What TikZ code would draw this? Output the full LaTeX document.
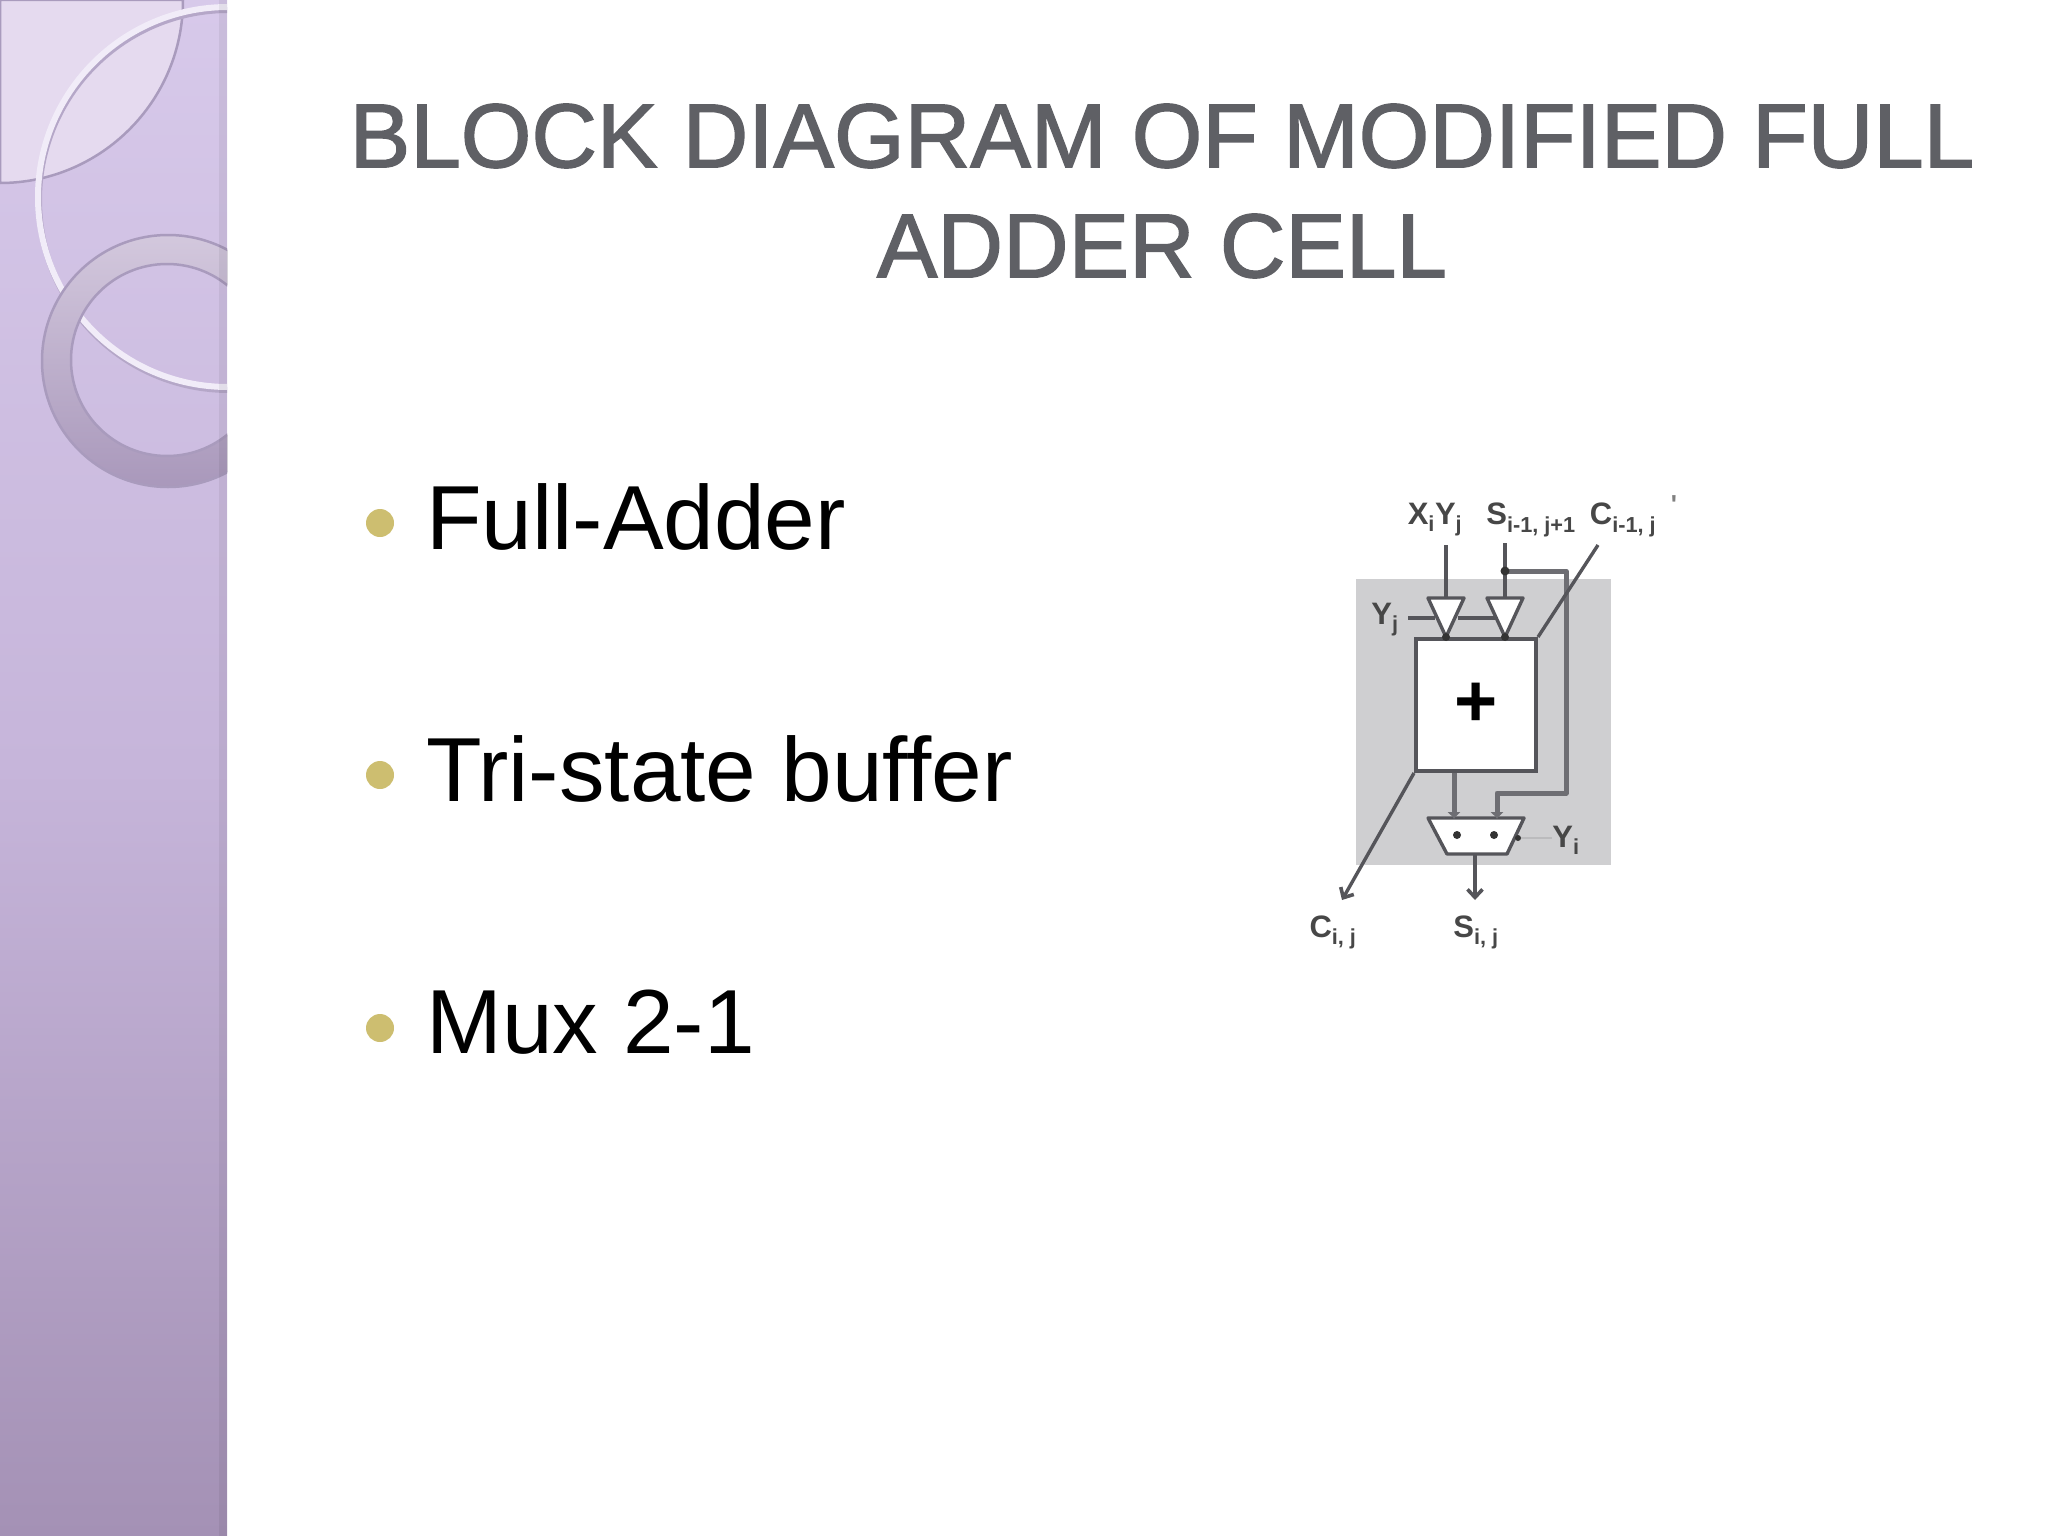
\documentclass[tikz,border=0pt]{standalone}
\usepackage{fontspec}
\setmainfont{Liberation Sans}
\newfontfamily\titlefont[FakeBold=1.6]{Liberation Sans}
\usetikzlibrary{positioning,arrows.meta}
\definecolor{bandtop}{HTML}{D7C9EA}
\definecolor{bandmid}{HTML}{C6B5DA}
\definecolor{bandlow}{HTML}{A491B5}
\definecolor{bandline}{HTML}{A99BBD}
\definecolor{cornerfill}{HTML}{E5DAEF}
\definecolor{ringtop}{HTML}{D3C8DD}
\definecolor{ringlow}{HTML}{A998BB}
\definecolor{titlegray}{HTML}{5F6065}
\definecolor{bulletgold}{HTML}{CDBE70}
\definecolor{cellgray}{HTML}{CFCFD1}
\definecolor{wiregray}{HTML}{55555A}
\tikzset{
    wire/.style={draw=wiregray, line width=3.4pt},
    thickwire/.style={draw=wiregray!85, line width=5pt},
    tipwire/.style={wire, -{Straight Barb[length=8pt,width=15pt,line width=3.6pt]}},
    fedwire/.style={thickwire, -{Latex[length=7pt,width=14pt]}},
    pinlabel/.style={font=\bfseries\fontsize{31}{32}\selectfont, text=black!72, inner sep=0pt},
    titlelabel/.style={font=\titlefont\fontsize{90.8}{96}\selectfont, text=titlegray, inner sep=0pt},
    itemlabel/.style={font=\fontsize{91}{96}\selectfont, text=black, anchor=west, inner sep=0pt},
    bulletdot/.style={circle, fill=bulletgold, minimum size=28pt, inner sep=0pt},
    pindot/.style={circle, fill=black!80, minimum size=8pt, inner sep=0pt},
}
\begin{document}
\begin{tikzpicture}[x=1pt, y=-1pt]
\useasboundingbox (0,0) rectangle (2048,1536);

% side band
\fill[top color=bandtop, bottom color=bandlow, middle color=bandmid] (0,0) rectangle (227,1536);
\begin{scope}
\clip (0,0) rectangle (227,1536);
\fill[cornerfill, draw=bandline, line width=2.5pt] (0,0) -- (183,0) arc[start angle=0, end angle=90, radius=183] -- cycle;
\draw[bandline!75!bandtop, line width=6pt] (229,200) circle[radius=190];
\draw[white!65!bandtop, line width=6pt] (228,197) circle[radius=190];
\fill[top color=ringtop, bottom color=ringlow, even odd rule, draw=bandline, line width=2.5pt]
    (168,361) circle[radius=126] (167,360) circle[radius=96];
\fill[black, opacity=.06] (219,0) rectangle (227,1536);
\end{scope}

% title
\node[titlelabel] (titletop) at (1162,136) {BLOCK DIAGRAM OF MODIFIED FULL};
\node[titlelabel] (titlelow) at (1162,246) {ADDER CELL};

% items
\foreach \name/\y/\txt in {fulladd/517/Full-Adder, tristate/769/Tri-state buffer, muxitem/1022/Mux 2-1}{
    \node[bulletdot] (\name dot) at (380,\y+6) {};
    \node[itemlabel] (\name) at (426,\y) {\txt};
}

% cell
\fill[cellgray] (1356,579) rectangle (1611,865);
\node[draw=wiregray, line width=4pt, fill=white, minimum width=120pt, minimum height=132pt, inner sep=0pt,
    font=\bfseries\fontsize{74}{74}\selectfont] (adder) at (1476,705) {+};

% tri-state buffers
\foreach \name/\x in {bufx/1446,bufs/1505}{
    \coordinate (\name l) at (\x-18,598);
    \coordinate (\name r) at (\x+18,598);
    \coordinate (\name in) at (\x,598);
    \coordinate (\name out) at (\x,637);
    \draw[wire, fill=white, line join=round] (\name l) -- (\name r) -- (\name out) -- cycle;
    \node[pindot] (\name tip) at (\name out) {};
}

% mux
\coordinate (muxa) at (1428,818);
\coordinate (muxb) at (1524,818);
\coordinate (muxc) at (1507,854);
\coordinate (muxd) at (1447,854);
\draw[wire, fill=white, line join=round] (muxa) -- (muxb) -- (muxc) -- (muxd) -- cycle;
\coordinate (muxin) at (1454,819);
\coordinate (muxfb) at (1497,819);
\coordinate (muxout) at (1475,854);
\node[pindot] (dota) at (1457,835) {};
\node[pindot] (dotb) at (1494,835) {};
\node[pindot, minimum size=6pt] (dotc) at (1518,838) {};

% labels
\node[pinlabel] (xy) at (1435,520) {X\textsubscript{i}Y\textsubscript{j}};
\node[pinlabel] (spre) at (1531,520) {S\textsubscript{i-1, j+1}};
\node[pinlabel] (cpre) at (1623,520) {C\textsubscript{i-1, j}};
\node[pinlabel, font=\bfseries\fontsize{26}{26}\selectfont, text=black!50] (tick) at (1674,505) {\textquotesingle};
\node[pinlabel] (yj) at (1385,620) {Y\textsubscript{j}};
\node[pinlabel] (yi) at (1566,840) {Y\textsubscript{i}};
\node[pinlabel] (cout) at (1333,932) {C\textsubscript{i, j}};
\node[pinlabel] (sout) at (1476,932) {S\textsubscript{i, j}};

% connectors
\coordinate (xtop) at (1446,545);
\coordinate (stop) at (1505,543);
\coordinate (fbdot) at (1505,571);
\coordinate (cnew) at (1598,545);
\coordinate (ctip) at (1342,900);
\coordinate (stip) at (1475,900);
\coordinate (ysel) at (1408,618);
\coordinate (bufxsel) at (1435,618);
\coordinate (bufxend) at (1458,618);
\coordinate (bufssel) at (1495,618);
\draw[wire] (xtop) -- (bufxin);
\draw[wire] (stop) -- (bufsin);
\draw[thickwire, line join=round] (fbdot) -- (1566,571) -- (1566,793) -- (1497,793) -- (1497,800);
\draw[fedwire] (1497,795) -- (muxfb);
\node[pindot, minimum size=9pt] (fbjoin) at (fbdot) {};
\draw[wire] (cnew) -- (adder.north east);
\draw[wire] (ysel) -- (bufxsel);
\draw[wire] (bufxend) -- (bufssel);
\draw[fedwire] (adder.south -| muxin) -- (muxin);
\draw[tipwire] (adder.south west) -- (ctip);
\draw[tipwire] (muxout) -- (stip);
\draw[draw=wiregray!40, line width=2pt] (dotc) -- (dotc -| yi.west);

\end{tikzpicture}
\end{document}
